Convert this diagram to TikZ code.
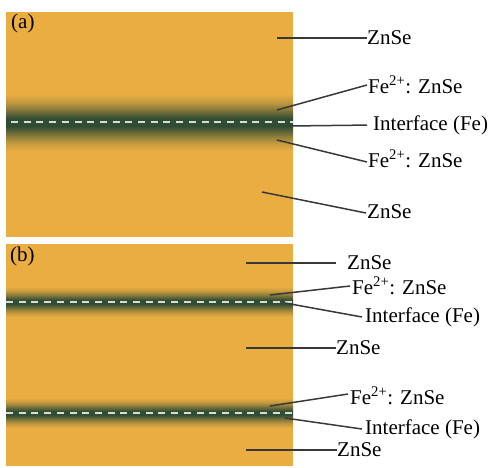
\documentclass[tikz,border=0pt]{standalone}
\usepackage{fontspec}
\setmainfont{Liberation Serif}
\definecolor{zorange}{HTML}{E9AD42}
\definecolor{zgreen}{HTML}{304C34}
\definecolor{dashcol}{HTML}{DADDD2}
\definecolor{leadcol}{HTML}{383838}
\colorlet{bandA}{zorange!80!zgreen}
\colorlet{bandB}{zorange!50!zgreen}
\colorlet{bandC}{zorange!20!zgreen}
% soft doped layer: orange -> dark green -> orange
\pgfdeclareverticalshading{dopedband}{100bp}{%
  color(0bp)=(zorange); color(25bp)=(zorange); color(32bp)=(bandA);
  color(38bp)=(bandB); color(43bp)=(bandC); color(47bp)=(zgreen);
  color(53bp)=(zgreen); color(57bp)=(bandC); color(62bp)=(bandB);
  color(68bp)=(bandA); color(75bp)=(zorange); color(100bp)=(zorange)}
\begin{document}
\begin{tikzpicture}[x=1pt,y=-1pt,
  crystal/.style={fill=zorange, draw=none},
  band/.style={shading=dopedband, draw=none},
  iface/.style={draw=dashcol, line width=2pt, dash pattern=on 7pt off 5.7pt},
  lbl/.style={anchor=west, inner sep=0pt, font=\fontsize{21}{24}\selectfont, text=black},
  lead/.style={draw=leadcol, line width=1.5pt},
  panel/.style={anchor=north west, inner sep=0pt, font=\fontsize{21}{24}\selectfont}]
\useasboundingbox (0,0) rectangle (490,467);

% ---------- (a) single interface ----------
\fill[crystal] (6,12) rectangle (293,237);
\shade[band] (6,94) rectangle (293,151);
\draw[iface, dash phase=-5pt] (6,122) -- (293,122);
\node[panel] (pa) at (11,14) {(a)};

\node[lbl] (a1) at (367,38) {ZnSe};
\node[lbl] (a2) at (368,85) {Fe\textsuperscript{2+}: ZnSe};
\node[lbl] (a3) at (373,125) {Interface (Fe)};
\node[lbl] (a4) at (368,159) {Fe\textsuperscript{2+}: ZnSe};
\node[lbl] (a5) at (367,212) {ZnSe};

\coordinate (sa1) at (277,38);
\coordinate (sa2) at (277,110);
\coordinate (sa3) at (289,126);
\coordinate (sa4) at (277,140);
\coordinate (sa5) at (262,192);
\draw[lead] (sa1) -- (a1.west);
\draw[lead] (sa2) -- ([xshift=-1pt]a2.west);
\draw[lead, shorten >=6pt] (sa3) -- (a3.west);
\draw[lead] (sa4) -- ([xshift=-1pt,yshift=-3pt]a4.west);
\draw[lead] (sa5) -- ([xshift=-1pt,yshift=-1pt]a5.west);

% ---------- (b) two interfaces ----------
\fill[crystal] (6,244) rectangle (293,466);
\shade[band] (6,287) rectangle (293,317);
\shade[band] (6,398) rectangle (293,428);
\draw[iface] (6,302) -- (293,302);
\draw[iface] (6,413) -- (293,413);
\node[panel] (pb) at (10,247) {(b)};

\node[lbl] (b1) at (347,263) {ZnSe};
\node[lbl] (b2) at (352,286) {Fe\textsuperscript{2+}: ZnSe};
\node[lbl] (b3) at (365,317) {Interface (Fe)};
\node[lbl] (b4) at (336,348) {ZnSe};
\node[lbl] (b5) at (350,396) {Fe\textsuperscript{2+}: ZnSe};
\node[lbl] (b6) at (365,429) {Interface (Fe)};
\node[lbl] (b7) at (337,450) {ZnSe};

\coordinate (sb1) at (246,263);
\coordinate (sb2) at (270,295);
\coordinate (sb3) at (285,303);
\coordinate (sb4) at (246,348);
\coordinate (sb5) at (270,406);
\coordinate (sb6) at (285,418);
\coordinate (sb7) at (246,450);
\draw[lead, shorten >=11pt] (sb1) -- (b1.west);
\draw[lead] (sb2) -- ([xshift=-2pt]b2.west);
\draw[lead] (sb3) -- ([xshift=-3pt]b3.west);
\draw[lead] (sb4) -- (b4.west);
\draw[lead] (sb5) -- ([xshift=-2pt,yshift=2pt]b5.west);
\draw[lead] (sb6) -- ([xshift=-3pt]b6.west);
\draw[lead] (sb7) -- (b7.west);
\end{tikzpicture}
\end{document}
